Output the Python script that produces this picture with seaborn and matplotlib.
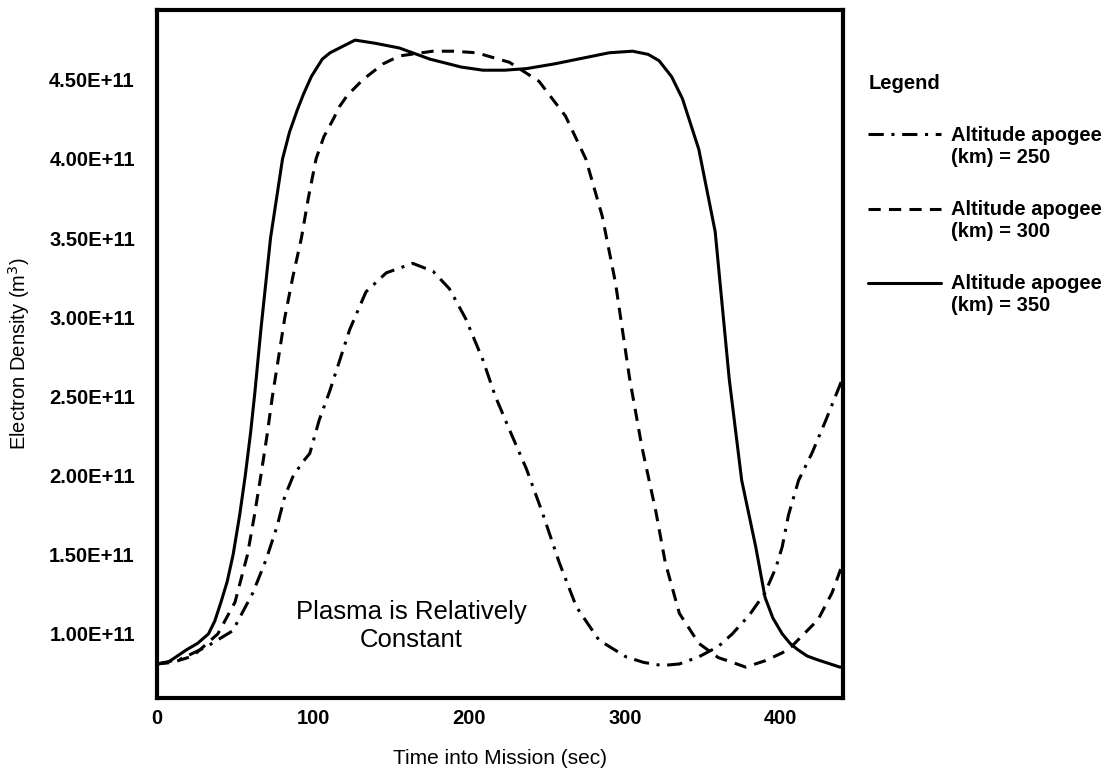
"""
Electron density vs. time into mission for three apogee altitudes.
"""

import matplotlib

matplotlib.use("Agg")
import matplotlib.pyplot as plt
from matplotlib.ticker import FuncFormatter, MultipleLocator
import numpy as np
import pandas as pd
import seaborn as sns

# Values (density in units of 1e11 per m^3)
time_250 = [0, 15, 32, 48.6, 61.5, 70, 77, 82, 87, 93, 98, 104, 111, 123.5, 134, 147,
            164, 177, 187.5, 198, 209, 217, 226, 237, 247, 258, 269, 283.5, 300.8,
            312, 324, 335, 347.5, 360, 369, 380, 390, 397, 401, 405, 411.5, 420, 429, 440]
dens_250 = [0.81, 0.84, 0.92, 1.02, 1.26, 1.47, 1.68, 1.87, 1.99, 2.08, 2.14, 2.35, 2.54,
            2.92, 3.16, 3.28, 3.34, 3.29, 3.18, 2.99, 2.73, 2.50, 2.29, 2.04, 1.77, 1.45,
            1.17, 0.96, 0.855, 0.82, 0.80, 0.81, 0.855, 0.92, 1.00, 1.12, 1.26, 1.42,
            1.55, 1.75, 1.97, 2.14, 2.35, 2.62]

time_300 = [0, 10, 23, 39, 50, 58, 62.5, 66.6, 70.5, 74, 78, 82, 87, 92.6, 97, 102, 107,
            113, 117, 122, 132, 145, 155.5, 177, 190, 205, 226, 245, 262, 275, 285.5, 294,
            303, 311, 320, 326, 335, 347.5, 360, 369, 377.5, 390, 401, 407, 415, 424, 433,
            440]
dens_300 = [0.81, 0.82, 0.86, 1.00, 1.20, 1.50, 1.75, 2.00, 2.25, 2.50, 2.75, 3.00, 3.25,
            3.50, 3.75, 4.00, 4.14, 4.25, 4.33, 4.40, 4.50, 4.60, 4.65, 4.68, 4.68, 4.67,
            4.61, 4.49, 4.27, 4.00, 3.64, 3.22, 2.62, 2.18, 1.77, 1.45, 1.13, 0.94, 0.85,
            0.82, 0.79, 0.83, 0.88, 0.92, 1.00, 1.09, 1.26, 1.45]

time_350 = [0, 7, 19, 26, 33, 37, 41, 45, 48.8, 53, 56.6, 60, 62.7, 66.6, 72.8, 80.5, 85,
            90, 94, 99, 106, 111, 117, 127, 140, 155.5, 175, 195, 209, 223, 237, 255, 275,
            290, 305, 315, 322, 330, 337, 347.5, 358, 367, 375, 384, 390, 395, 401, 406,
            411, 417, 424, 438, 440]
dens_350 = [0.81, 0.82, 0.90, 0.94, 1.00, 1.08, 1.20, 1.33, 1.50, 1.75, 2.00, 2.27, 2.52,
            2.92, 3.50, 4.00, 4.17, 4.31, 4.41, 4.52, 4.63, 4.67, 4.70, 4.75, 4.73, 4.70,
            4.63, 4.58, 4.56, 4.56, 4.57, 4.60, 4.64, 4.67, 4.68, 4.66, 4.62, 4.52, 4.38,
            4.06, 3.54, 2.61, 1.97, 1.55, 1.23, 1.10, 1.00, 0.94, 0.90, 0.86, 0.835, 0.79,
            0.79]

series_labels = ["Altitude apogee\n(km) = 250", "Altitude apogee\n(km) = 300",
                 "Altitude apogee\n(km) = 350"]
y_ticks = [1.0, 1.5, 2.0, 2.5, 3.0, 3.5, 4.0, 4.5]

df = pd.concat([
    pd.DataFrame({"Time": time_250, "Density": dens_250, "Series": series_labels[0]}),
    pd.DataFrame({"Time": time_300, "Density": dens_300, "Series": series_labels[1]}),
    pd.DataFrame({"Time": time_350, "Density": dens_350, "Series": series_labels[2]}),
])

sns.set_style("white")
plt.rcParams["font.family"] = ["Liberation Sans", "DejaVu Sans"]
plt.rcParams["text.color"] = "black"
plt.rcParams["axes.labelcolor"] = "black"
plt.rcParams["xtick.color"] = "black"
plt.rcParams["ytick.color"] = "black"

fig = plt.figure(figsize=(11.02, 7.71), dpi=100)
ax = fig.add_axes([0.1425, 0.0947, 0.6225, 0.8923])

sns.lineplot(
    data=df,
    x="Time",
    y="Density",
    style="Series",
    dashes={series_labels[0]: (5, 2.5, 1, 2.5),
            series_labels[1]: (4, 2.7),
            series_labels[2]: ""},
    color="black",
    linewidth=2.2,
    sort=False,
    estimator=None,
    ax=ax,
)

ax.set_xlim(0, 440)
ax.set_ylim(0.595, 4.94)
ax.set_yticks(y_ticks)
ax.yaxis.set_major_formatter(FuncFormatter(lambda v, p: f"{v * 1e11:.2E}"))
ax.xaxis.set_major_locator(MultipleLocator(100))
ax.xaxis.set_minor_locator(MultipleLocator(50))

for side in ["left", "right", "top", "bottom"]:
    ax.spines[side].set_linewidth(3)
    ax.spines[side].set_color("black")

ax.tick_params(axis="y", which="major", direction="in", length=12, width=2.5,
               pad=16, labelsize=14.5)
ax.tick_params(axis="x", which="major", direction="in", length=17, width=2.5,
               pad=8, labelsize=14.5)
ax.tick_params(axis="x", which="minor", direction="in", length=9, width=2.5)
for lab in ax.get_xticklabels() + ax.get_yticklabels():
    lab.set_fontweight("bold")

ax.set_xlabel("Time into Mission (sec)", fontsize=15, labelpad=15)
ax.set_ylabel("Electron Density (m$^3$)", fontsize=14.5, labelpad=12)

ax.text(163, 1.05, "Plasma is Relatively\nConstant", ha="center", va="center",
        fontsize=18.5, linespacing=1.2)

leg = ax.legend(
    title="Legend",
    loc="upper left",
    bbox_to_anchor=(1.022, 0.922),
    frameon=False,
    handlelength=3.6,
    handletextpad=0.5,
    labelspacing=1.65,
    borderpad=0,
    fontsize=14.5,
    alignment="left",
)
leg.get_title().set_fontsize(14.5)
leg.get_title().set_fontweight("bold")
for t in leg.get_texts():
    t.set_fontweight("bold")
# put each legend line level with the first line of its label
for line in leg.get_lines():
    line.set_ydata(np.asarray(line.get_ydata()) + 9)

fig.savefig("out.png", dpi=100)
